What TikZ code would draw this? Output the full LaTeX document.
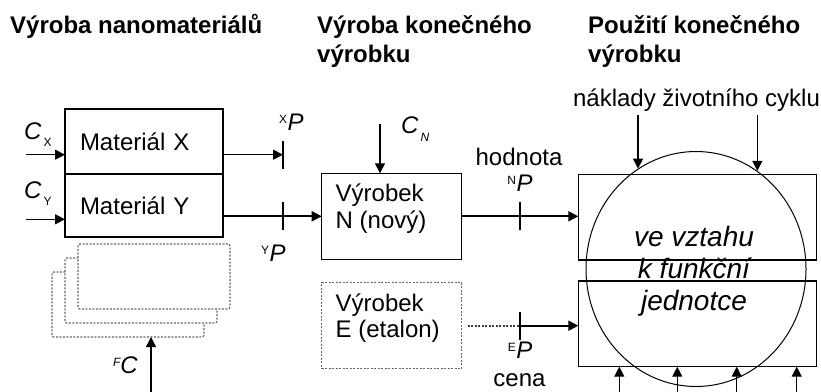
\documentclass[tikz,border=0pt]{standalone}
\usepackage{fontspec}
\setmainfont{Liberation Sans}
\usetikzlibrary{shapes.geometric, arrows.meta, positioning}

\newcommand{\supP}[1]{\raisebox{7pt}{\fontsize{12}{12}\selectfont #1}\kern0.5pt\textit{P}}
\newcommand{\topbox}[1]{\parbox[c][64pt][t]{112pt}{\raggedright #1}}

\begin{document}
\begin{tikzpicture}[
  x=1pt, y=-1pt,
  font=\fontsize{24}{26.5}\selectfont,
  header/.style={font=\bfseries\fontsize{24}{29}\selectfont, align=left, inner sep=0pt},
  matbox/.style={rectangle, draw, line width=1.3pt, minimum width=158pt, text width=128pt, inner xsep=15pt, inner ysep=0pt, outer sep=0pt, align=left},
  prodbox/.style={rectangle, draw, line width=1.3pt, inner xsep=14pt, inner ysep=11pt, outer sep=0pt},
  usebox/.style={rectangle, draw, line width=1.2pt, minimum width=238.4pt, minimum height=85.7pt, inner sep=0pt, outer sep=0pt},
  dotline/.style={draw=black!60, line width=1.2pt, dash pattern=on 2pt off 1.5pt},
  layer/.style={rectangle, dotline, fill=white, rounded corners=2pt, minimum width=152pt, minimum height=65pt, outer sep=0pt},
  arrow/.style={line width=1.3pt, -{Triangle[length=10pt, width=10pt]}},
  flow/.style={arrow, line width=2pt},
  bar/.style={line width=2pt}
]
\useasboundingbox (0,0) rectangle (821,391);

% Headers
\node[header, anchor=base west] (hMat) at (10,33) {Výroba nanomateriálů};
\node[header, anchor=north west] (hProd) at (317,15.5) {Výroba konečného\\výrobku};
\node[header, anchor=north west] (hUse) at (588,15.5) {Použití konečného\\výrobku};

% Nanomaterials
\node[matbox, minimum height=65pt, anchor=north west] (matX) at (65,109) {Materiál X};
\node[matbox, minimum height=63pt, below=0pt of matX] (matY) {Materiál Y};
\foreach \k in {2,1,0}
  \node[layer, anchor=north west] (layer\k) at ({78-13*\k},{244+14*\k}) {};

\node[anchor=base west, inner sep=0pt] (cX) at (24,139) {\textit{C}\kern2pt\raisebox{-7pt}{\fontsize{12}{12}\selectfont X}};
\node[anchor=base west, inner sep=0pt] (cY) at (24,198) {\textit{C}\kern2pt\raisebox{-7pt}{\fontsize{12}{12}\selectfont Y}};
\node[anchor=base east, inner sep=0pt] (cF) at (138,373) {\raisebox{7pt}{\fontsize{12}{12}\selectfont\itshape F}\textit{C}};

% Final products
\node[prodbox, anchor=north west] (prodN) at (321.7,173.3) {\topbox{Výrobek\\N (nový)}};
\node[prodbox, dotline, anchor=north west] (prodE) at (321.7,282.7) {\topbox{Výrobek\\E (etalon)}};
\node[anchor=base west, inner sep=0pt] (cN) at (401,133) {\textit{C}\kern2pt\raisebox{-8pt}{\fontsize{12}{12}\selectfont\itshape N}};

% Use of the product
\node[usebox, anchor=north west] (useN) at (578.3,174.3) {};
\node[usebox, anchor=north west] (useE) at (578.3,281) {};
\node[ellipse, draw, line width=1pt, minimum width=220pt, minimum height=235pt, inner sep=0pt] (ring) at (696,269) {};
\node[font=\itshape\fontsize{28}{32}\selectfont, align=center] (unit) at (694,271) {ve vztahu\\k funkční\\jednotce};
\node[anchor=base] (life) at (696.5,106.7) {náklady životního cyklu};

% Labels at the ticks
\node[anchor=base west, inner sep=0pt] (pX) at (279,130) {\supP{X}};
\node[anchor=base west, inner sep=0pt] (pY) at (261,261.7) {\supP{Y}};
\node[anchor=base] (valN) at (519,165) {hodnota};
\node[anchor=base] (pN) at (520,191.7) {\supP{N}};
\node[anchor=base] (pE) at (520,358) {\supP{E}};
\node[anchor=base] (costE) at (519.5,386.7) {cena};

% Coordinates
\coordinate (inX) at (26,154.7);
\coordinate (inY) at (26,219.3);
\coordinate (inF) at (151,400);
\coordinate (inN) at (380,124);
\coordinate (tickX) at (283,154.7);
\coordinate (tickY) at (tickX |- prodN.west);
\coordinate (tickN) at (520,216.3);
\coordinate (tickE) at (520,325.7);

% Arrows
\draw[arrow] (inX) -- (inX -| matX.west);
\draw[arrow] (inY) -- (inY -| matY.west);
\draw[arrow] (inF) -- (inF |- layer2.south);
\draw[arrow] (inN) -- (inN |- prodN.north);
\draw[arrow] (tickX -| matX.east) -- (tickX);
\draw[flow] (prodN.west -| matY.east) -- (prodN.west);
\draw[flow] (prodN.east) -- (prodN.east -| useN.west);
\draw[dotline, draw=black!75, line width=1.6pt] ([xshift=6pt]prodE.east) -- (tickE);
\draw[flow] (tickE) -- (tickE -| useE.west);
\draw[arrow] (life.south -| ring.120) -- (ring.120);
\draw[arrow] (life.south -| ring.58) -- (ring.58);
\foreach \x [count=\i] in {619.3,677.3,736.7,796.7} {
  \coordinate (feed\i) at (\x,400);
  \draw[arrow] (feed\i) -- (feed\i |- useE.south);
}

% Ticks
\foreach \t in {tickX,tickY,tickN,tickE}
  \draw[bar] ([yshift=-14pt]\t) -- ([yshift=14pt]\t);

\end{tikzpicture}
\end{document}
